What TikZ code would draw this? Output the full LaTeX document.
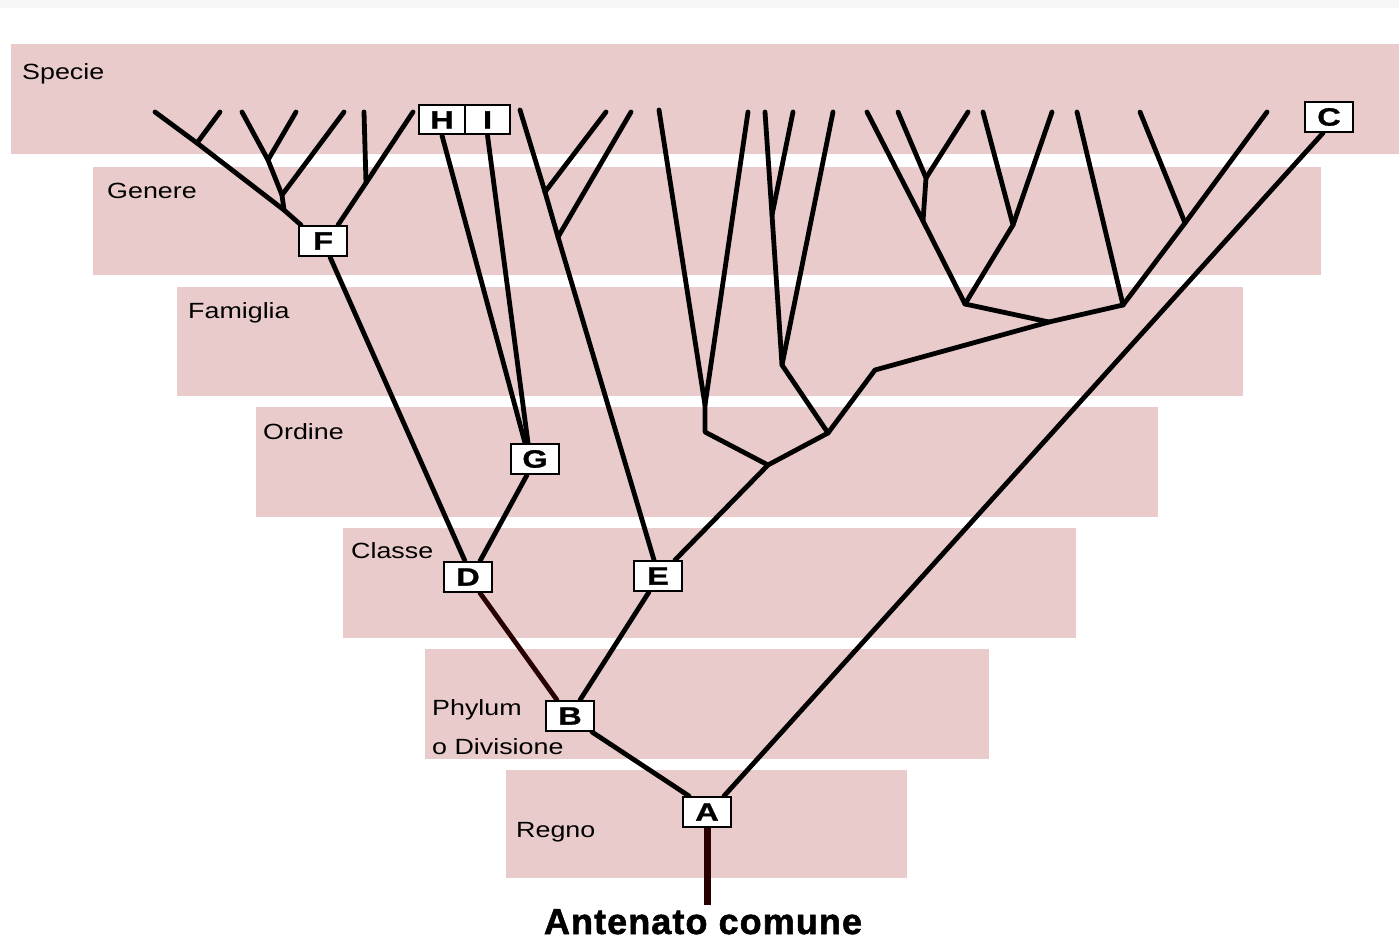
\documentclass[tikz,border=0pt]{standalone}
\usepackage{fontspec}
\setmainfont{Liberation Sans}
\newfontfamily\lblfont[FakeStretch=1.22]{Liberation Sans}
\newfontfamily\boxfont[FakeStretch=1.3,FakeBold=1.2]{Liberation Sans Bold}
\newfontfamily\ancfont[FakeBold=1.5,LetterSpace=3]{Liberation Sans Bold}
\usetikzlibrary{calc}
\definecolor{bandpink}{RGB}{234,203,203}
\definecolor{stemred}{RGB}{40,0,0}
\pgfdeclarelayer{bands}
\pgfdeclarelayer{lines}
\pgfsetlayers{bands,lines,main}
\begin{document}
\begin{tikzpicture}[x=1pt,y=-1pt,
  band/.style={fill=bandpink,draw=none},
  lbl/.style={anchor=base west,inner sep=0,font=\lblfont\fontsize{22}{26}\selectfont},
  box/.style={draw=black,line width=2pt,fill=white,minimum width=48pt,minimum height=30pt,inner sep=0,font=\boxfont\fontsize{25}{25}\selectfont},
  br/.style={line width=4.8pt,line cap=round,line join=round},
  stem/.style={line width=7pt,draw=stemred}
]
\useasboundingbox (0,0) rectangle (1399,952);
\begin{pgfonlayer}{bands}
\fill[white] (0,0) rectangle (1399,952);
\fill[gray!6] (0,0) rectangle (1399,8);
\fill[band] (11,44) rectangle (1399,154);
\fill[band] (93,167) rectangle (1321,275);
\fill[band] (177,287) rectangle (1243,396);
\fill[band] (256,407) rectangle (1158,517);
\fill[band] (343,528) rectangle (1076,638);
\fill[band] (425,649) rectangle (989,759);
\fill[band] (506,770) rectangle (907,878);
\end{pgfonlayer}
\node[lbl] (tSpecie) at (22,80) {Specie};
\node[lbl] (tGenere) at (107,199) {Genere};
\node[lbl] (tFamiglia) at (188,318) {Famiglia};
\node[lbl] (tOrdine) at (263,439) {Ordine};
\node[lbl] (tClasse) at (351,558) {Classe};
\node[lbl] (tPhylum) at (432,715) {Phylum};
\node[lbl] (tDiv) at (432,754) {o Divisione};
\node[lbl] (tRegno) at (516,837) {Regno};
% boxes
\node[box] (F) at (323,241) {F};
\node[box,minimum width=46pt,minimum height=29pt] (H) at (442,120) {H};
\node[box,minimum width=45pt,minimum height=29pt] (I) at (487.5,120) {I};
\node[box] (C) at (1329,117) {C};
\node[box] (G) at (535,459) {G};
\node[box] (D) at (468,577) {D};
\node[box] (E) at (658,576) {E};
\node[box] (B) at (570,716) {B};
\node[box] (A) at (707,812) {A};
\coordinate (root) at (707,905);
\node[anchor=base,inner sep=0,font=\ancfont\fontsize{36}{36}\selectfont] (anc) at (703,934) {Antenato comune};
% leaves
\coordinate (l1) at (155,112);
\coordinate (l2) at (220,112);
\coordinate (l3) at (242,112);
\coordinate (l4) at (296,112);
\coordinate (l5) at (344,112);
\coordinate (l6) at (364,112);
\coordinate (l7) at (413,112);
\coordinate (l8) at (520,110);
\coordinate (l9) at (606,112);
\coordinate (l10) at (631,112);
\coordinate (l11) at (659,110);
\coordinate (l12) at (748,112);
\coordinate (l13) at (765,112);
\coordinate (l14) at (793,112);
\coordinate (l15) at (833,112);
\coordinate (l16) at (867,112);
\coordinate (l17) at (898,112);
\coordinate (l18) at (968,112);
\coordinate (l19) at (983,112);
\coordinate (l20) at (1052,112);
\coordinate (l21) at (1077,112);
\coordinate (l22) at (1140,112);
\coordinate (l23) at (1267,112);
% junctions
\coordinate (k0) at (197,143);
\coordinate (k1) at (268,160);
\coordinate (k2) at (282,195);
\coordinate (k3) at (284,210);
\coordinate (k4) at (366,183);
\coordinate (e1) at (545,192);
\coordinate (e2) at (558,237);
\coordinate (j1) at (768,465);
\coordinate (j2) at (705,432);
\coordinate (j2a) at (705,405);
\coordinate (j3) at (828,433);
\coordinate (j4) at (782,365);
\coordinate (j4a) at (772,215);
\coordinate (j5) at (875,370);
\coordinate (j6) at (1049,322);
\coordinate (j7) at (965,304);
\coordinate (j7a) at (926,178);
\coordinate (j7b) at (923,221);
\coordinate (j7c) at (1013,225);
\coordinate (j8) at (1123,305);
\coordinate (j8a) at (1185,223);
\begin{pgfonlayer}{lines}
\draw[br] (l1) -- (k0) -- (k3) -- ($(F.north west)+(3,0)$);
\draw[br] (l2) -- (k0);
\draw[br] (l3) -- (k1) -- (l4);
\draw[br] (k1) -- (k2) -- (k3);
\draw[br] (l5) -- (k2);
\draw[br] (l7) -- (k4) -- ($(F.north)+(15,0)$);
\draw[br] (l6) -- (k4);
\draw[br] ($(F.south)+(7,0)$) -- ($(D.north)+(-3,0)$);
\draw[br] ($(D.north)+(12,0)$) -- ($(G.south)+(-8,0)$);
\draw[br] ($(G.north)+(-10,0)$) -- (H.south);
\draw[br] ($(G.north)+(-7,0)$) -- (I.south);
\draw[br,stemred] ($(D.south)+(12,0)$) -- ($(B.north)+(-13,0)$);
\draw[br] ($(E.south)+(-9,0)$) -- ($(B.north)+(10,0)$);
\draw[br] ($(B.south)+(22,0)$) -- ($(A.north)+(-18,0)$);
\draw[br] ($(A.north)+(17,0)$) -- ($(C.south)+(-6,0)$);
\draw[stem] (A.south) -- (root);
\draw[br] ($(E.north)+(-4,0)$) -- (e2) -- (e1) -- (l8);
\draw[br] (l9) -- (e1);
\draw[br] (l10) -- (e2);
\draw[br] ($(E.north)+(17,0)$) -- (j1) -- (j3) -- (j5) -- (j6) -- (j8) -- (j8a) -- (l23);
\draw[br] (j1) -- (j2) -- (j2a) -- (l11);
\draw[br] (j2a) -- (l12);
\draw[br] (j3) -- (j4) -- (j4a) -- (l13);
\draw[br] (j4a) -- (l14);
\draw[br] (j4) -- (l15);
\draw[br] (j6) -- (j7) -- (j7b) -- (l16);
\draw[br] (j7b) -- (j7a) -- (l17);
\draw[br] (j7a) -- (l18);
\draw[br] (j7) -- (j7c) -- (l19);
\draw[br] (j7c) -- (l20);
\draw[br] (j8) -- (l21);
\draw[br] (j8a) -- (l22);
\end{pgfonlayer}
\end{tikzpicture}
\end{document}
